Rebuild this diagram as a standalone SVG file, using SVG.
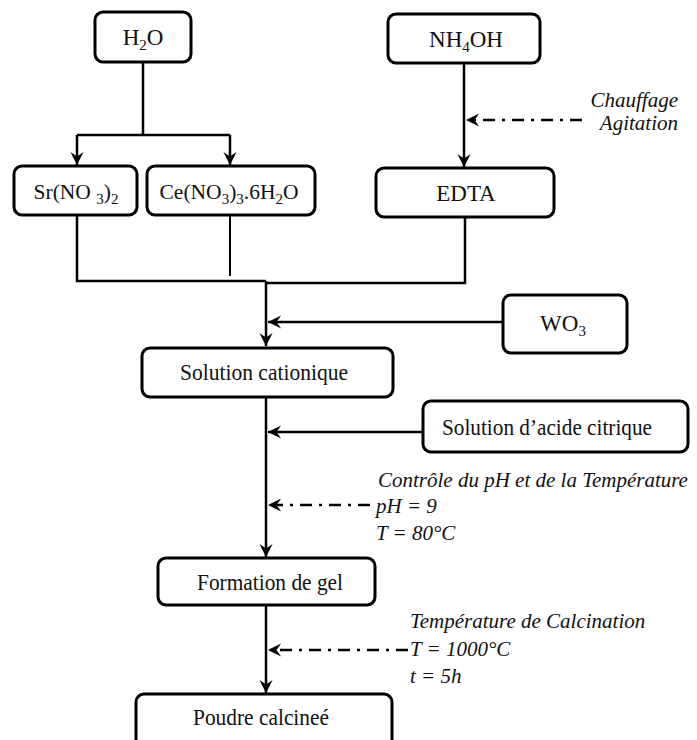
<svg xmlns="http://www.w3.org/2000/svg" width="697" height="740" viewBox="0 0 697 740">
<defs>
<marker id="ah" markerWidth="15" markerHeight="15" viewBox="-15 -8 16 16" refX="0" refY="0" orient="auto" markerUnits="userSpaceOnUse">
<path d="M0,0 L-14,-7 L-9,0 L-14,7 Z" fill="#000"/>
</marker>
<style>
.box{fill:#fff;stroke:#000;stroke-width:3}
.t{font-size:23px;fill:#111;text-anchor:middle}
.m{font-size:21.5px}
.i{font-size:21px;font-style:italic;fill:#111}
.ln{fill:none;stroke:#000;stroke-width:2.5}
.dd{fill:none;stroke:#000;stroke-width:2.5;stroke-dasharray:12 7 3 7}
.s{font-size:15px}
</style>
</defs>
<g id="connectors">
<path class="ln" d="M143,62 V135 M77,135 H230"/>
<path class="ln" d="M77,135 V165" marker-end="url(#ah)"/>
<path class="ln" d="M230,135 V165" marker-end="url(#ah)"/>
<path class="ln" d="M464,63 V167" marker-end="url(#ah)"/>
<path class="ln" d="M77,215 V281 H266"/>
<path class="ln" d="M230,215 V276" style="stroke-width:2"/>
<path class="ln" d="M465,217 V283 H266"/>
<path class="ln" d="M266,281 V346" marker-end="url(#ah)"/>
<path class="ln" d="M503,322 H268" marker-end="url(#ah)"/>
<path class="ln" d="M266,397 V557" marker-end="url(#ah)"/>
<path class="ln" d="M423,432 H268" marker-end="url(#ah)"/>
<path class="dd" d="M370,505 H268" marker-end="url(#ah)"/>
<path class="ln" d="M266,605 V693" marker-end="url(#ah)"/>
<path class="dd" d="M408,650 H268" marker-end="url(#ah)"/>
<path class="dd" d="M582,120 H466" marker-end="url(#ah)"/>
</g>
<g font-family="'Liberation Serif', 'DejaVu Serif', serif">
<g id="h2o"><rect class="box" x="95" y="12" width="96" height="50" rx="8"/><text class="t" x="143" y="45">H<tspan class="s" dy="5">2</tspan><tspan dy="-5">O</tspan></text></g>
<g id="nh4oh"><rect class="box" x="388" y="14" width="152" height="49" rx="8"/><text class="t" x="466" y="47">NH<tspan class="s" dy="5">4</tspan><tspan dy="-5">OH</tspan></text></g>
<g id="sr"><rect class="box" x="14" y="166" width="123" height="49" rx="8"/><text class="t m" x="76" y="199">Sr(NO <tspan class="s" dy="5">3</tspan><tspan dy="-5">)</tspan><tspan class="s" dy="5">2</tspan></text></g>
<g id="ce"><rect class="box" x="147" y="166" width="168" height="49" rx="8"/><text class="t m" x="229" y="199">Ce(NO<tspan class="s" dy="5">3</tspan><tspan dy="-5">)</tspan><tspan class="s" dy="5">3</tspan><tspan dy="-5">.6H</tspan><tspan class="s" dy="5">2</tspan><tspan dy="-5">O</tspan></text></g>
<g id="edta"><rect class="box" x="376" y="168" width="178" height="49" rx="8"/><text class="t" x="466" y="201">EDTA</text></g>
<g id="chauffage"><text class="i" x="678" y="107" text-anchor="end">Chauffage</text><text class="i" x="678" y="130" text-anchor="end">Agitation</text></g>
<g id="wo3"><rect class="box" x="503" y="295" width="124" height="58" rx="8"/><text class="t" x="563" y="331">WO<tspan class="s" dy="5">3</tspan></text></g>
<g id="solcat"><rect class="box" x="142" y="348" width="251" height="49" rx="8"/><text class="t" x="264" y="380" textLength="168" lengthAdjust="spacingAndGlyphs">Solution cationique</text></g>
<g id="acide"><rect class="box" x="423" y="401" width="265" height="51" rx="8"/><text class="t" x="547" y="435" textLength="210" lengthAdjust="spacingAndGlyphs">Solution d’acide citrique</text></g>
<g id="controle"><text class="i" x="378" y="487">Contrôle du pH et de la Température</text><text class="i" x="376" y="513">pH = 9</text><text class="i" x="376" y="540">T = 80°C</text></g>
<g id="gel"><rect class="box" x="158" y="558" width="217" height="47" rx="8"/><text class="t" x="270" y="590" textLength="146" lengthAdjust="spacingAndGlyphs">Formation de gel</text></g>
<g id="calcination"><text class="i" x="410" y="628">Température de Calcination</text><text class="i" x="410" y="656">T = 1000°C</text><text class="i" x="410" y="683">t = 5h</text></g>
<g id="poudre"><rect class="box" x="136" y="694" width="256" height="60" rx="8"/><text class="t" x="261" y="725" textLength="136" lengthAdjust="spacingAndGlyphs">Poudre calcineé</text></g>
</g>
</svg>
